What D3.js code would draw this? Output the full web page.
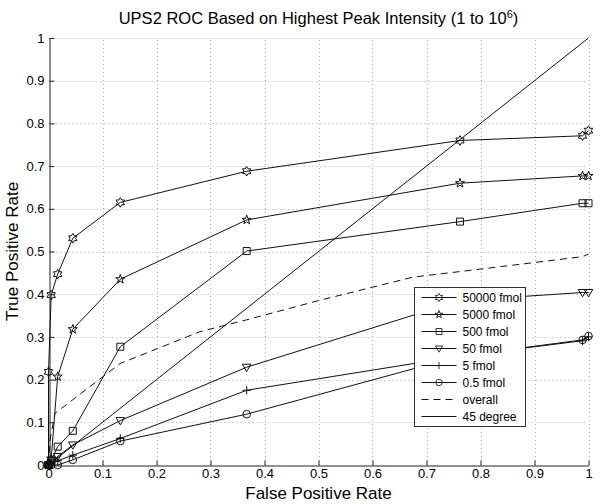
<!DOCTYPE html>
<html lang="en">
<head>
  <meta charset="UTF-8">
  <title>UPS2 ROC</title>
  <script src="https://d3js.org/d3.v7.min.js"></script>
  <style>
    body { margin: 0; background: #fff; }
    text { font-family: "Liberation Sans", Arial, sans-serif; fill: #000; }
  </style>
</head>
<body>
  <div id="chart"></div>
  <script type="text/javascript">
    // false positive rate shared by the marked series
    var fpr = [0, 0, 0.005, 0.017, 0.045, 0.133, 0.367, 0.762, 0.989, 1];

    var tpr50000 = [0, 0.218, 0.398, 0.447, 0.531, 0.615, 0.688, 0.760, 0.771, 0.783];
    var tpr5000  = [0, 0, 0.015, 0.207, 0.318, 0.435, 0.574, 0.660, 0.677, 0.677];
    var tpr500   = [0, 0, 0.010, 0.043, 0.080, 0.277, 0.501, 0.570, 0.613, 0.613];
    var tpr50    = [0, 0, 0.005, 0.020, 0.047, 0.104, 0.229, 0.385, 0.404, 0.404];
    var tpr5     = [0, 0, 0.003, 0.010, 0.023, 0.062, 0.175, 0.255, 0.291, 0.300];
    var tpr05    = [0, 0, 0, 0, 0.012, 0.056, 0.119, 0.255, 0.293, 0.302];

    // overall curve (no markers)
    var overallX = [0, 0.003, 0.012, 0.133, 0.28, 0.367, 0.5, 0.675, 0.762, 0.86, 0.989, 1];
    var overallY = [0, 0.060, 0.121, 0.238, 0.312, 0.340, 0.385, 0.440, 0.453, 0.468, 0.488, 0.494];

    var ticks = [0, 0.1, 0.2, 0.3, 0.4, 0.5, 0.6, 0.7, 0.8, 0.9, 1];
    var legendLabels = ["50000 fmol", "5000 fmol", "500 fmol", "50 fmol", "5 fmol", "0.5 fmol", "overall", "45 degree"];

    var width = 600, height = 504;
    var margin = {top: 38, right: 11.5, bottom: 39, left: 48.5};

    var svg = d3.select("#chart").append("svg")
      .attr("width", width)
      .attr("height", height);

    var x = d3.scaleLinear().domain([0, 1]).range([margin.left, width - margin.right]);
    var y = d3.scaleLinear().domain([0, 1]).range([height - margin.bottom, margin.top]);

    // dotted grid
    var grid = svg.append("g")
      .attr("stroke", "#aaa")
      .attr("stroke-width", 1)
      .attr("stroke-dasharray", "1,3");
    grid.selectAll("line.v").data(ticks.slice(1)).enter().append("line")
      .attr("x1", function (d) { return Math.round(x(d)) + 0.5; })
      .attr("x2", function (d) { return Math.round(x(d)) + 0.5; })
      .attr("y1", y(0)).attr("y2", y(1));
    grid.selectAll("line.h").data(ticks.slice(1)).enter().append("line")
      .attr("y1", function (d) { return Math.round(y(d)) + 0.5; })
      .attr("y2", function (d) { return Math.round(y(d)) + 0.5; })
      .attr("x1", x(0)).attr("x2", x(1));

    // axes, ticks pointing inward like matlab
    var fmt = function (d) { return d3.format("")(+d.toFixed(1)); };
    var xAxis = svg.append("g")
      .attr("transform", "translate(0," + (Math.round(y(0)) + 0.5) + ")")
      .call(d3.axisBottom(x).tickValues(ticks).tickSizeInner(-5).tickSizeOuter(0).tickPadding(3).tickFormat(fmt));
    var yAxis = svg.append("g")
      .attr("transform", "translate(" + (Math.round(x(0)) + 0.5) + ",0)")
      .call(d3.axisLeft(y).tickValues(ticks).tickSizeInner(-5).tickSizeOuter(0).tickPadding(5).tickFormat(fmt));
    [xAxis, yAxis].forEach(function (a) {
      a.select(".domain").attr("stroke", "#222");
      a.selectAll(".tick line").attr("stroke", "#222");
      a.selectAll("text")
        .style("font-family", "'Liberation Sans', Arial, sans-serif")
        .style("font-size", "13px")
        .attr("fill", "#000");
    });

    // marker shapes
    function starPts(n, ro, ri) {
      var pts = [];
      for (var i = 0; i < 2 * n; i++) {
        var r = i % 2 === 0 ? ro : ri;
        var a = -Math.PI / 2 + i * Math.PI / n;
        pts.push([r * Math.cos(a), r * Math.sin(a)]);
      }
      return "M" + pts.map(function (p) { return p[0].toFixed(2) + "," + p[1].toFixed(2); }).join("L") + "Z";
    }
    var markers = {
      hexagram: starPts(6, 4.8, 2.8),
      pentagram: starPts(5, 4.8, 1.9),
      square: "M-3.5,-3.5H3.5V3.5H-3.5Z",
      triangle: "M-4.3,-3L4.3,-3L0,4.3Z",
      plus: "M-4.2,0H4.2M0,-4.2V4.2",
      circle: "M3.8,0A3.8,3.8 0 1,1 -3.8,0A3.8,3.8 0 1,1 3.8,0Z",
      none: ""
    };

    var series = [
      {name: legendLabels[0], xs: fpr, ys: tpr50000, marker: "hexagram", dash: null},
      {name: legendLabels[1], xs: fpr, ys: tpr5000, marker: "pentagram", dash: null},
      {name: legendLabels[2], xs: fpr, ys: tpr500, marker: "square", dash: null},
      {name: legendLabels[3], xs: fpr, ys: tpr50, marker: "triangle", dash: null},
      {name: legendLabels[4], xs: fpr, ys: tpr5, marker: "plus", dash: null},
      {name: legendLabels[5], xs: fpr, ys: tpr05, marker: "circle", dash: null},
      {name: legendLabels[6], xs: overallX, ys: overallY, marker: "none", dash: "7,5"},
      {name: legendLabels[7], xs: [0, 1], ys: [0, 1], marker: "none", dash: null}
    ];

    var line = d3.line()
      .x(function (d) { return x(d[0]); })
      .y(function (d) { return y(d[1]); });

    var plot = svg.append("g");
    series.forEach(function (s) {
      var pts = s.xs.map(function (v, i) { return [v, s.ys[i]]; });
      plot.append("path")
        .attr("d", line(pts))
        .attr("fill", "none")
        .attr("stroke", "#111")
        .attr("stroke-width", 1)
        .attr("stroke-dasharray", s.dash);
      if (s.marker !== "none") {
        plot.selectAll(null).data(pts).enter().append("path")
          .attr("transform", function (d) { return "translate(" + x(d[0]) + "," + y(d[1]) + ")"; })
          .attr("d", markers[s.marker])
          .attr("fill", "none")
          .attr("stroke", "#111")
          .attr("stroke-width", 1);
      }
    });

    // legend
    var lg = svg.append("g").attr("transform", "translate(414.5,287.5)");
    lg.append("rect")
      .attr("width", 111).attr("height", 139)
      .attr("fill", "#fff").attr("stroke", "#333");
    series.forEach(function (s, i) {
      var ry = 10 + i * 17;
      lg.append("line")
        .attr("x1", 7).attr("x2", 42).attr("y1", ry).attr("y2", ry)
        .attr("stroke", "#111").attr("stroke-dasharray", s.dash);
      if (s.marker !== "none") {
        lg.append("path")
          .attr("transform", "translate(24.5," + ry + ") scale(0.85)")
          .attr("d", markers[s.marker])
          .attr("fill", "none").attr("stroke", "#111");
      }
      lg.append("text")
        .attr("x", 48).attr("y", ry).attr("dy", "0.35em")
        .style("font-size", "12px")
        .text(s.name);
    });

    // title and axis labels
    var title = svg.append("text")
      .attr("x", (x(0) + x(1)) / 2).attr("y", 24)
      .attr("text-anchor", "middle")
      .style("font-size", "16.5px")
      .text("UPS2 ROC Based on Highest Peak Intensity (1 to 10");
    title.append("tspan").attr("dy", -6).style("font-size", "11px").text("6");
    title.append("tspan").attr("dy", 6).text(")");

    svg.append("text")
      .attr("x", (x(0) + x(1)) / 2).attr("y", 499)
      .attr("text-anchor", "middle")
      .style("font-size", "17px")
      .text("False Positive Rate");

    svg.append("text")
      .attr("transform", "translate(18," + ((y(0) + y(1)) / 2) + ") rotate(-90)")
      .attr("text-anchor", "middle")
      .style("font-size", "17px")
      .text("True Positive Rate");
  </script>
</body>
</html>
